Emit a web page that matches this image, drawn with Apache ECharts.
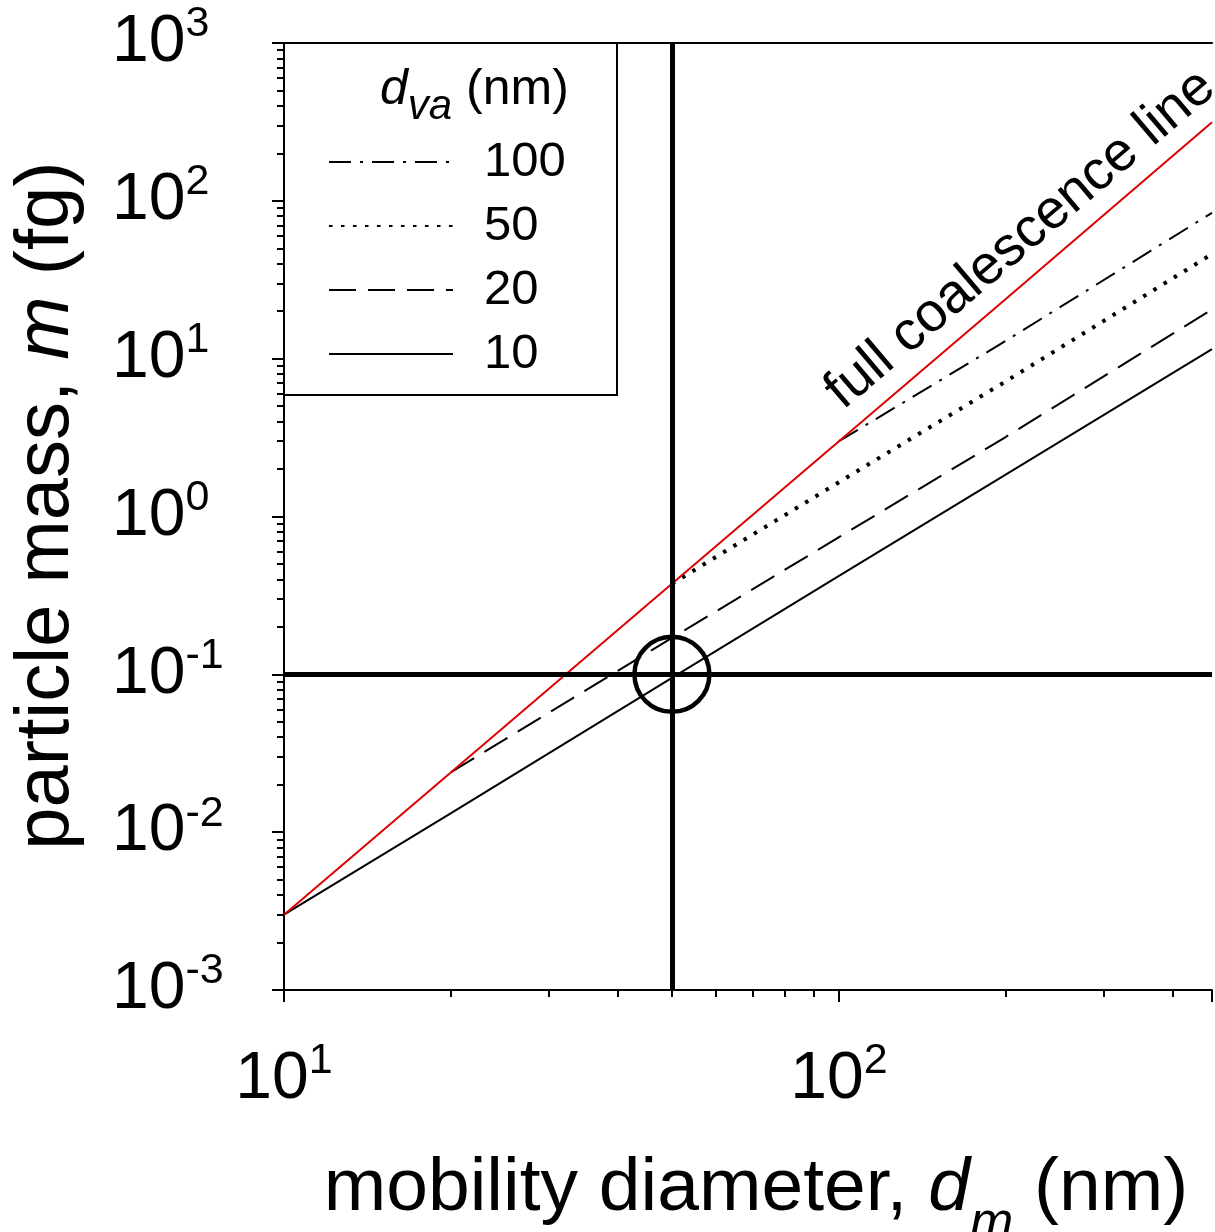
<!DOCTYPE html>
<html>
<head>
<meta charset="utf-8">
<script src="https://cdn.jsdelivr.net/npm/echarts@6/dist/echarts.min.js"></script>
<style>
html, body { margin: 0; padding: 0; background: #fff; }
#chart { width: 1215px; height: 1232px; }
</style>
</head>
<body>
<div id="chart"></div>
<script>
var FONT = '"Liberation Sans", Arial, sans-serif';

// mobility diameter d_m (nm) / particle mass m (fg)
var fullD = [10, 20, 50, 100, 200, 470];
var fullM = [0.003, 0.024, 0.375, 3.0, 24, 315];
var dva100D = [100, 200, 470];
var dva100M = [3.0, 13, 84];
var dva50D = [50, 100, 200, 470];
var dva50M = [0.375, 1.65, 7.2, 46];
var dva20D = [20, 50, 100, 200, 470];
var dva20M = [0.024, 0.17, 0.74, 3.2, 20.5];
var dva10D = [10, 20, 50, 100, 200, 470];
var dva10M = [0.003, 0.0132, 0.095, 0.42, 1.85, 11.5];
var legendNames = ['100', '50', '20', '10'];
var refPoint = [50, 0.1];

function pairs(xs, ys) {
  return xs.map(function (x, i) { return [x, ys[i]]; });
}

// 10^n labels
function powLabel(v) {
  var e = Math.log10(v);
  if (Math.abs(e - Math.round(e)) > 1e-6) return '';
  return '{b|10}{s|' + Math.round(e) + '}';
}
var richPow = {
  b: { fontSize: 66, lineHeight: 80, color: '#000', fontFamily: FONT },
  s: { fontSize: 43, lineHeight: 43, verticalAlign: 'top', color: '#000', fontFamily: FONT }
};

var axisBlack = { color: '#000', width: 2 };

function lineSeries(name, data, color, width, type) {
  return {
    name: name,
    type: 'line',
    data: data,
    symbol: 'none',
    silent: true,
    lineStyle: { color: color, width: width, type: type },
    itemStyle: { color: color }
  };
}

var chart = echarts.init(document.getElementById('chart'));
chart.setOption({
  animation: false,
  backgroundColor: '#fff',
  textStyle: { fontFamily: FONT },
  grid: { left: 284, right: 0, top: 43, bottom: 242 },
  xAxis: [{
    type: 'log',
    logBase: 10,
    min: 10,
    max: 470,
    axisLine: { lineStyle: axisBlack },
    axisTick: { length: 12, lineStyle: axisBlack },
    minorTick: { show: true, splitNumber: 9, length: 7, lineStyle: axisBlack },
    splitLine: { show: false },
    minorSplitLine: { show: false },
    axisLabel: { margin: 50, formatter: powLabel, rich: richPow }
  }, {
    type: 'log',
    position: 'top',
    min: 10,
    max: 470,
    axisLine: { lineStyle: axisBlack },
    axisTick: { show: false },
    axisLabel: { show: false },
    splitLine: { show: false }
  }],
  yAxis: {
    type: 'log',
    logBase: 10,
    min: 0.001,
    max: 1000,
    axisLine: { lineStyle: axisBlack },
    axisTick: { length: 12, lineStyle: axisBlack },
    minorTick: { show: true, splitNumber: 9, length: 7, lineStyle: axisBlack },
    splitLine: { show: false },
    minorSplitLine: { show: false },
    axisLabel: { align: 'left', margin: 172, formatter: powLabel, rich: richPow },
    name: '{n|particle mass, }{i|m}{n| (fg)}',
    nameLocation: 'middle',
    nameRotate: 90,
    nameGap: 199,
    nameTextStyle: {
      padding: [0, 0, 0, 22],
      rich: {
        n: { fontSize: 76, color: '#000', fontFamily: FONT },
        i: { fontSize: 76, fontStyle: 'italic', color: '#000', fontFamily: FONT }
      }
    }
  },
  legend: {
    data: legendNames,
    orient: 'vertical',
    left: 323,
    top: 129,
    itemWidth: 124,
    itemHeight: 14,
    itemGap: 8,
    selectedMode: false,
    itemStyle: { opacity: 0 },
    textStyle: { fontSize: 49, lineHeight: 56, color: '#000', fontFamily: FONT, padding: [0, 0, 0, 26] }
  },
  graphic: [
    {
      type: 'rect',
      z: 1,
      shape: { x: 284, y: 43, width: 333, height: 352 },
      style: { fill: '#fff', stroke: '#000', lineWidth: 2 }
    },
    {
      type: 'text',
      z: 5,
      x: 380,
      y: 52,
      style: {
        text: '{i|d}{s|va}{n| (nm)}',
        verticalAlign: 'top',
        rich: {
          i: { fontSize: 50, lineHeight: 76, fontStyle: 'italic', fill: '#000', fontFamily: FONT },
          s: { fontSize: 42, lineHeight: 76, fontStyle: 'italic', verticalAlign: 'bottom', fill: '#000', fontFamily: FONT },
          n: { fontSize: 50, lineHeight: 76, fill: '#000', fontFamily: FONT }
        }
      }
    },
    {
      type: 'text',
      z: 5,
      x: 756,
      y: 1128,
      style: {
        text: '{n|mobility diameter, }{i|d}{s|m}{n| (nm)}',
        align: 'center',
        verticalAlign: 'top',
        rich: {
          n: { fontSize: 75, lineHeight: 122, fill: '#000', fontFamily: FONT },
          i: { fontSize: 75, lineHeight: 122, fontStyle: 'italic', fill: '#000', fontFamily: FONT },
          s: { fontSize: 52, lineHeight: 122, fontStyle: 'italic', verticalAlign: 'bottom', fill: '#000', fontFamily: FONT }
        }
      }
    },
    {
      type: 'text',
      z: 5,
      x: 851,
      y: 420,
      rotation: 0.705,
      style: {
        text: 'full coalescence line',
        fontSize: 55,
        fontFamily: FONT,
        fill: '#000',
        align: 'left',
        verticalAlign: 'bottom'
      }
    }
  ],
  series: [
    lineSeries('10', pairs(dva10D, dva10M), '#000', 2, 'solid'),
    lineSeries('20', pairs(dva20D, dva20M), '#000', 2, [27, 12]),
    lineSeries('50', pairs(dva50D, dva50M), '#000', 4, [3.5, 8.5]),
    lineSeries('100', pairs(dva100D, dva100M), '#000', 2, [22, 9, 3, 9]),
    lineSeries('full coalescence line', pairs(fullD, fullM), '#e00000', 2, 'solid'),
    {
      name: 'reference',
      type: 'scatter',
      silent: true,
      data: [refPoint],
      symbol: 'circle',
      symbolSize: 75,
      itemStyle: { color: 'rgba(0,0,0,0)', borderColor: '#000', borderWidth: 4.5, opacity: 1 },
      markLine: {
        silent: true,
        symbol: ['none', 'none'],
        label: { show: false },
        lineStyle: { color: '#000', width: 5, type: 'solid' },
        data: [{ yAxis: refPoint[1] }, { xAxis: refPoint[0] }]
      }
    }
  ]
});
</script>
</body>
</html>
